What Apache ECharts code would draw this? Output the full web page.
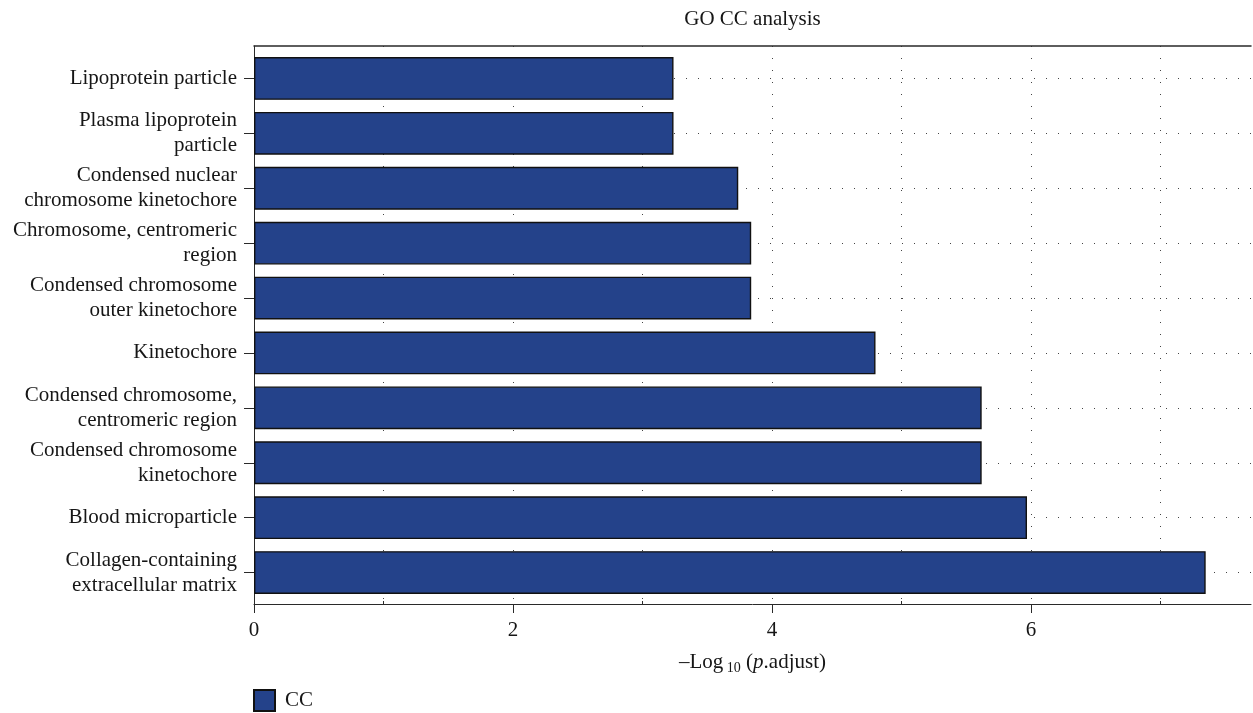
<!DOCTYPE html>
<html>
<head>
<meta charset="utf-8">
<title>GO CC analysis</title>
<script src="https://cdn.jsdelivr.net/npm/echarts@6/dist/echarts.min.js"></script>
<style>
  html, body { margin: 0; padding: 0; background: #ffffff; }
  #chart { width: 1253px; height: 713px; }
</style>
</head>
<body>
<div id="chart"></div>
<script>
// GO cellular component terms, top to bottom
const categories = [
  'Lipoprotein particle',
  'Plasma lipoprotein\nparticle',
  'Condensed nuclear\nchromosome kinetochore',
  'Chromosome, centromeric\nregion',
  'Condensed chromosome\nouter kinetochore',
  'Kinetochore',
  'Condensed chromosome,\ncentromeric region',
  'Condensed chromosome\nkinetochore',
  'Blood microparticle',
  'Collagen-containing\nextracellular matrix'
];
// -log10(p.adjust)
const values = [3.24, 3.24, 3.74, 3.84, 3.84, 4.80, 5.62, 5.62, 5.97, 7.35];
const majorTicks = [0, 2, 4, 6];
const minorTicks = [1, 3, 5, 7];
const xMax = 7.7;

const FONT = 'Liberation Serif';
const FS = 21;
const INK = '#161616';
const AXIS = '#2a2a2a';
const BAR = '#24428A';

const chart = echarts.init(document.getElementById('chart'), null, { renderer: 'canvas' });

const dotted = { color: '#444', width: 1, type: [1, 11] };

chart.setOption({
  animation: false,
  backgroundColor: '#ffffff',
  textStyle: { fontFamily: FONT, color: INK },
  legend: {
    data: ['CC'],
    left: 253,
    top: 689,
    padding: 0,
    icon: 'rect',
    itemWidth: 21,
    itemHeight: 21,
    textStyle: { fontFamily: FONT, fontSize: FS, color: INK, padding: [0, 0, 0, 5] }
  },
  grid: [
    // panel frame: axes, ticks and vertical guides
    { left: 254, right: 2, top: 46, bottom: 109, outerBoundsMode: 'none' },
    // bars, with half-band padding inside the frame
    { left: 254, right: 2, top: 51, bottom: 113, outerBoundsMode: 'none' }
  ],
  xAxis: [
    {
      gridIndex: 0, type: 'value', position: 'bottom', min: 0, max: xMax,
      axisLine: { show: true, onZero: false, lineStyle: { color: AXIS, width: 1 } },
      axisTick: { show: true, length: 9, customValues: majorTicks, lineStyle: { color: AXIS } },
      axisLabel: { show: true, customValues: majorTicks, margin: 16, fontFamily: FONT, fontSize: FS, color: INK },
      splitLine: { show: false },
      name: '{a|\u2013Log}{sub| 10}{a| (}{i|p}{a|.adjust)}',
      nameLocation: 'middle',
      nameGap: 45,
      nameTextStyle: {
        rich: {
          a: { fontFamily: FONT, fontSize: FS, color: INK, lineHeight: 26 },
          i: { fontFamily: FONT, fontSize: FS, color: INK, fontStyle: 'italic', lineHeight: 26 },
          sub: { fontFamily: FONT, fontSize: 14, color: INK, lineHeight: 26, verticalAlign: 'bottom' }
        }
      }
    },
    {
      // dotted guides at every unit
      gridIndex: 0, type: 'value', position: 'bottom', min: 0, max: xMax, interval: 1,
      axisLine: { show: false, onZero: false },
      axisTick: { show: false },
      axisLabel: { show: false },
      splitLine: { show: true, showMinLine: false, showMaxLine: false, lineStyle: dotted }
    },
    {
      // small inward minor ticks
      gridIndex: 0, type: 'value', position: 'bottom', min: 0, max: xMax,
      axisLine: { show: false, onZero: false },
      axisTick: { show: true, inside: true, length: 3, customValues: minorTicks, lineStyle: { color: AXIS } },
      axisLabel: { show: false },
      splitLine: { show: false }
    },
    {
      // top border and title
      gridIndex: 0, type: 'value', position: 'top', min: 0, max: xMax,
      axisLine: { show: true, onZero: false, lineStyle: { color: AXIS, width: 1.5 } },
      axisTick: { show: false },
      axisLabel: { show: false },
      splitLine: { show: false },
      name: 'GO CC analysis',
      nameLocation: 'middle',
      nameGap: 16,
      nameTextStyle: { fontFamily: FONT, fontSize: FS, color: INK }
    },
    {
      gridIndex: 1, type: 'value', min: 0, max: xMax, show: false
    }
  ],
  yAxis: [
    {
      gridIndex: 0, type: 'value', min: 0, max: 1,
      axisLine: { show: true, onZero: false, lineStyle: { color: AXIS, width: 1 } },
      axisTick: { show: false },
      axisLabel: { show: false },
      splitLine: { show: false }
    },
    {
      gridIndex: 1, type: 'category', data: categories, inverse: true,
      axisLine: { show: false, onZero: false },
      axisTick: { show: true, alignWithLabel: true, length: 10, lineStyle: { color: AXIS } },
      axisLabel: { show: true, margin: 17, fontFamily: FONT, fontSize: FS, color: INK, lineHeight: 25, align: 'right' },
      splitLine: { show: false }
    }
  ],
  series: [
    {
      name: 'CC',
      type: 'bar',
      xAxisIndex: 4,
      yAxisIndex: 1,
      data: values,
      barCategoryGap: '22%',
      z: 2,
      itemStyle: { color: BAR, borderColor: '#111', borderWidth: 1.4 },
      markLine: {
        z: 1,
        silent: true,
        symbol: ['none', 'none'],
        label: { show: false },
        lineStyle: dotted,
        data: categories.map(c => ({ yAxis: c }))
      }
    }
  ]
});
</script>
</body>
</html>
